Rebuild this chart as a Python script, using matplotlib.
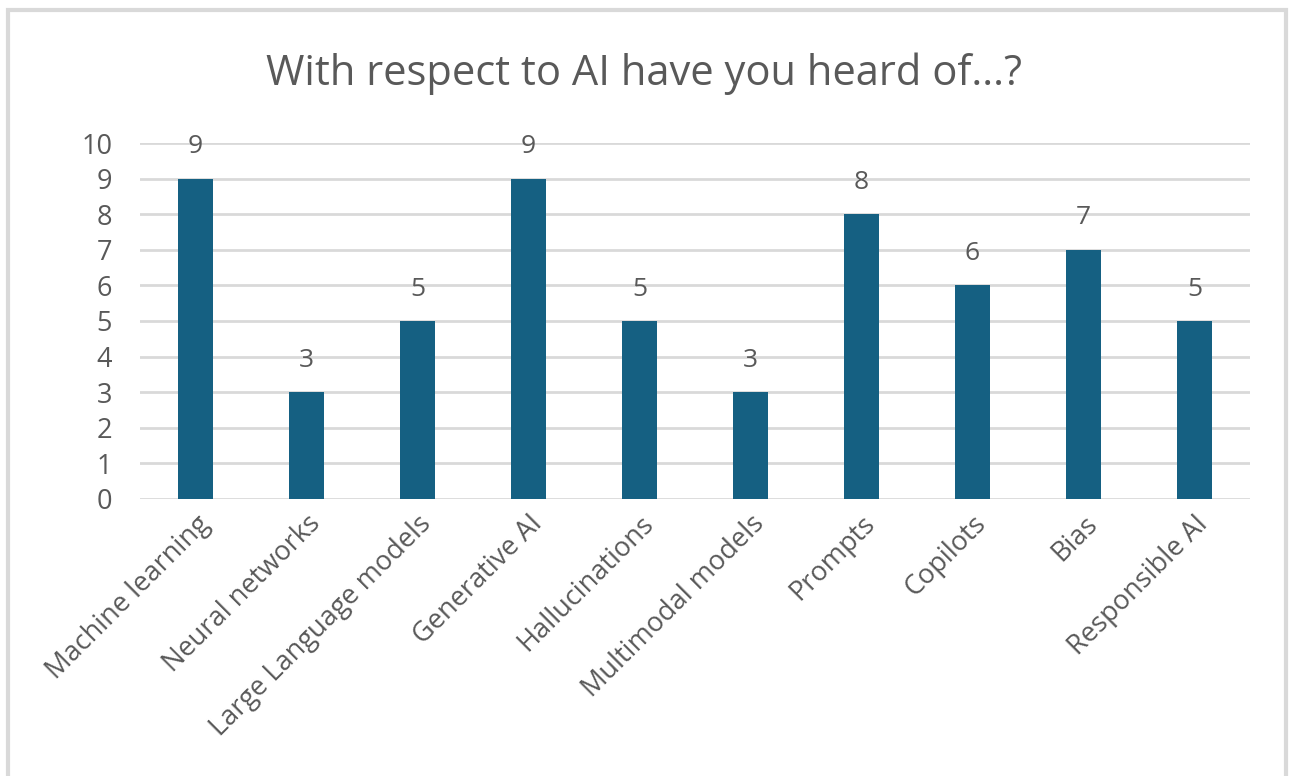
import matplotlib.pyplot as plt
from matplotlib.patches import Rectangle

categories = ["Machine learning", "Neural networks", "Large Language models",
              "Generative AI", "Hallucinations", "Multimodal models",
              "Prompts", "Copilots", "Bias", "Responsible AI"]
counts = [9, 3, 5, 9, 5, 3, 8, 6, 7, 5]
yticks = list(range(0, 11))

plt.rcParams['font.family'] = ['Open Sans', 'DejaVu Sans']
text_col = "#595959"
bar_col = "#156082"

fig = plt.figure(figsize=(12.89, 7.76), dpi=100)
fig.patches.append(Rectangle((0.006, -0.01), 0.992, 0.997, transform=fig.transFigure,
                             fill=False, edgecolor="#d9d9d9", linewidth=3))

ax = fig.add_axes([0.1086, 0.357, 0.8612, 0.4587])
x = list(range(len(categories)))
ax.bar(x, counts, width=0.32, color=bar_col, zorder=3)

ax.set_xlim(-0.5, len(categories) - 0.5)
ax.set_ylim(0, 10)
ax.set_yticks(yticks)
ax.set_yticklabels([str(v) for v in yticks], fontsize=19.5, color=text_col)
ax.yaxis.grid(True, color="#d9d9d9", linewidth=2, zorder=0)
ax.set_axisbelow(True)
ax.tick_params(axis='y', length=0, pad=20)
ax.tick_params(axis='x', length=0, pad=8)
for s in ax.spines.values():
    s.set_visible(False)

ax.set_xticks(x)
ax.set_xticklabels(categories, rotation=45, ha='right', rotation_mode='anchor',
                   fontsize=19.5, color=text_col)

for xi, v in zip(x, counts):
    ax.annotate(str(v), (xi, v), xytext=(0, 14), textcoords='offset points',
                ha='center', va='bottom', fontsize=19, color=text_col)

fig.text(0.5, 0.905, "With respect to AI have you heard of...?", ha='center',
         va='center', fontsize=30, color=text_col)

fig.savefig("out.png", dpi=100)
